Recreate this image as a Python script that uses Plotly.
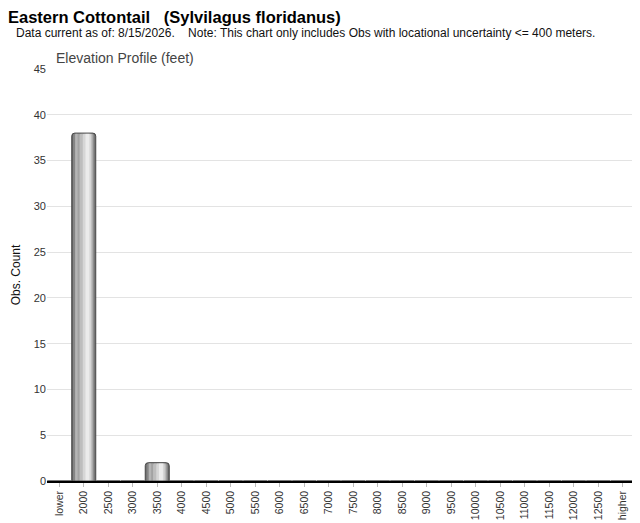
import plotly.graph_objects as go

# --- Data ---
categories = ["lower"] + [str(v) for v in range(2000, 13000, 500)] + ["higher"]
obs_count = [0, 38, 0, 0, 2, 0, 0, 0, 0, 0, 0, 0, 0, 0, 0, 0, 0, 0, 0, 0, 0, 0, 0, 0]

title_text = "Eastern Cottontail\u00a0\u00a0\u00a0(Sylvilagus floridanus)"
note_text = ("Data current as of: 8/15/2026.\u00a0\u00a0\u00a0\u00a0Note: This chart only includes "
             "Obs with locational uncertainty &lt;= 400 meters.")

fig = go.Figure()

# cylinder look: stacked overlay bars, narrower + lighter towards the highlight
layers = [
    (0.98, 0.00, "#666666"),
    (0.88, 0.00, "#858585"),
    (0.72, 0.03, "#a2a2a2"),
    (0.52, 0.09, "#bdbdbd"),
    (0.34, 0.13, "#d6d6d6"),
    (0.16, 0.15, "#ebebeb"),
    (0.10, -0.30, "#b5b5b5"),
]
for w, shift, col in layers:
    fig.add_trace(go.Bar(
        x=categories, y=obs_count,
        width=w, offset=-w / 2 + shift,
        marker=dict(color=col, line=dict(width=0)),
        hoverinfo="skip", showlegend=False,
    ))

# outline on top
fig.add_trace(go.Bar(
    x=categories, y=obs_count,
    width=0.98, offset=-0.49,
    marker=dict(color="rgba(0,0,0,0)", line=dict(color="#4a4a4a", width=1)),
    name="Obs. Count", showlegend=False,
))

# page body has an 8px margin, so the figure is 8px smaller than the window
fig.update_layout(
    width=632, height=515,
    barmode="overlay", barcornerradius=3,
    paper_bgcolor="white", plot_bgcolor="white",
    font=dict(family="Liberation Sans, Arial, sans-serif", color="#333", size=11),
    margin=dict(l=39, r=5, t=61, b=42),
    annotations=[
        dict(text="<b>" + title_text + "</b>", xref="paper", yref="paper",
             x=-0.069, y=1.1265, xanchor="left", yanchor="middle", showarrow=False,
             font=dict(size=16.5, color="#000")),
        dict(text=note_text, xref="paper", yref="paper",
             x=-0.056, y=1.088, xanchor="left", yanchor="middle", showarrow=False,
             font=dict(size=12, color="#111")),
        dict(text="Elevation Profile (feet)", xref="paper", yref="paper",
             x=0.012, y=1.027, xanchor="left", yanchor="middle", showarrow=False,
             font=dict(size=14, color="#444")),
    ],
)

fig.update_xaxes(
    type="category", tickangle=-90, showgrid=False, automargin=False,
    showline=True, linecolor="#000", linewidth=1.5,
    ticks="outside", ticklen=4, tickcolor="#bbb",
    tickfont=dict(size=10.5, color="#333"),
)
fig.update_yaxes(
    range=[0, 45], dtick=5, showgrid=True, gridcolor="#e3e3e3", automargin=False,
    zeroline=False, ticks="", tickfont=dict(size=11, color="#333"),
    title=dict(text="Obs. Count", font=dict(size=12, color="#111"), standoff=10),
)

fig.write_html("out.html")
